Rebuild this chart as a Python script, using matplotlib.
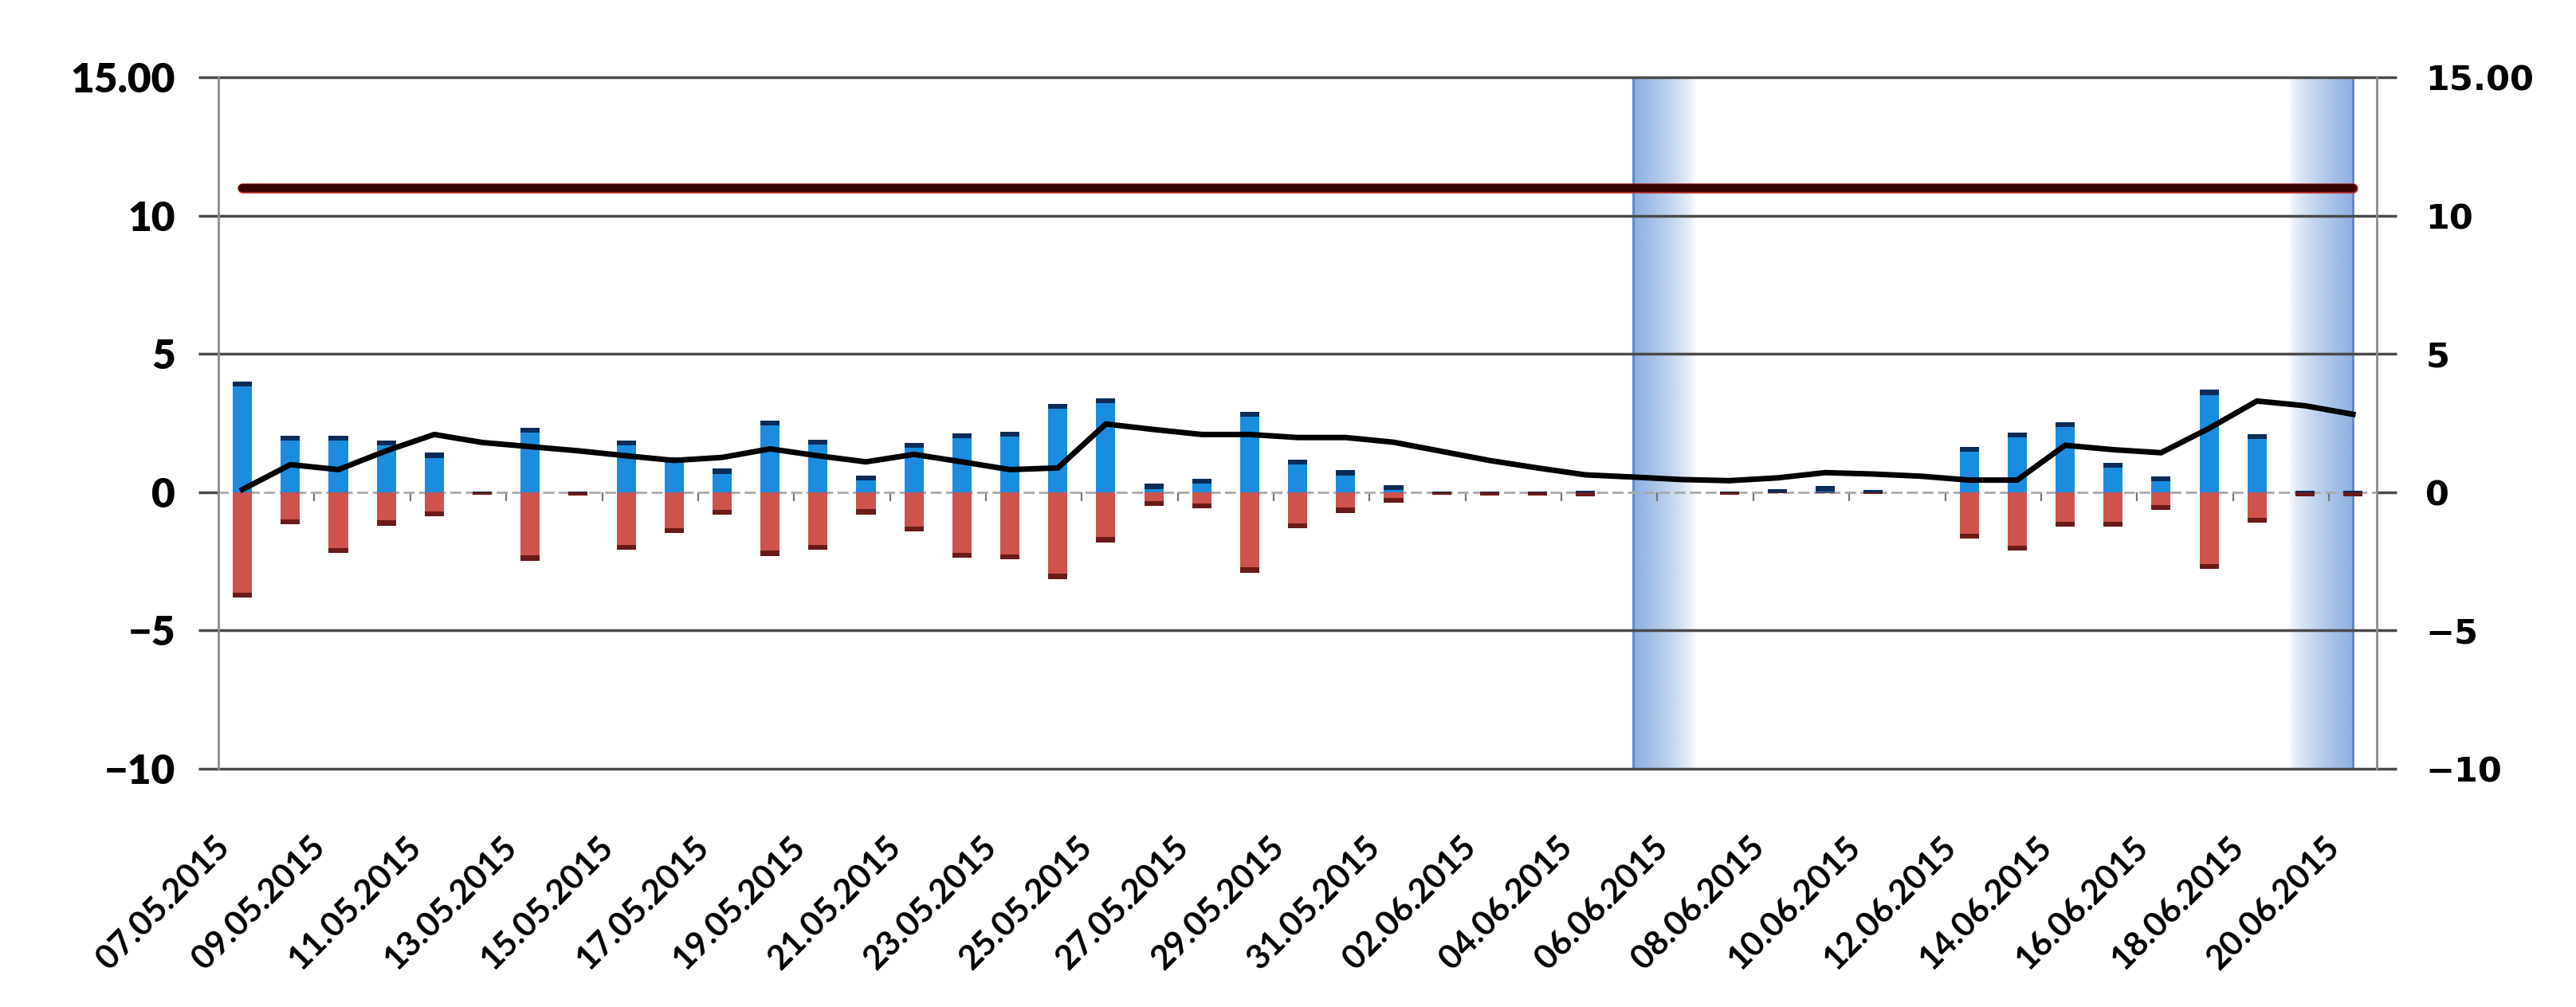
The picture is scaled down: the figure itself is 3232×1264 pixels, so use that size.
import matplotlib
matplotlib.use("Agg")
import matplotlib.pyplot as plt
import matplotlib.patheffects as pe
from matplotlib.colors import to_rgb
from matplotlib.transforms import blended_transform_factory, offset_copy
import numpy as np
import pandas as pd

# daily categories 07.05.2015 .. 20.06.2015
DATES = pd.date_range("2015-05-07", "2015-06-20", freq="D").strftime("%d.%m.%Y").tolist()

POSITIVE = [4.0, 2.05, 2.05, 1.87, 1.43, 0.04, 2.34, 0.04, 1.87, 1.26,
            0.85, 2.6, 1.9, 0.6, 1.79, 2.14, 2.2, 3.2, 3.4, 0.3,
            0.5, 2.9, 1.18, 0.79, 0.25, 0.03, 0.03, 0.03, 0.05, 0.0,
            0.0, 0.03, 0.1, 0.22, 0.08, 0.0, 1.65, 2.16, 2.53, 1.07,
            0.58, 3.7, 2.11, 0.05, 0.05]
NEGATIVE = [-3.8, -1.15, -2.2, -1.2, -0.88, -0.1, -2.47, -0.12, -2.09, -1.48,
            -0.82, -2.3, -2.09, -0.8, -1.41, -2.36, -2.42, -3.13, -1.81, -0.5,
            -0.58, -2.9, -1.3, -0.74, -0.38, -0.1, -0.12, -0.12, -0.15, 0.0,
            0.0, -0.1, -0.02, -0.02, -0.05, 0.0, -1.68, -2.12, -1.24, -1.24,
            -0.63, -2.78, -1.1, -0.14, -0.14]
TREND = [0.1, 1.0, 0.82, 1.5, 2.09, 1.8, 1.65, 1.5, 1.32, 1.15,
         1.26, 1.57, 1.32, 1.1, 1.37, 1.1, 0.82, 0.88, 2.47, 2.27,
         2.09, 2.09, 1.98, 1.98, 1.81, 1.48, 1.15, 0.88, 0.63, 0.55,
         0.46, 0.42, 0.52, 0.71, 0.66, 0.58, 0.44, 0.44, 1.7, 1.54,
         1.43, 2.31, 3.3, 3.13, 2.82]
LIMIT = 11
HIGHLIGHT_START = "05.06.2015"   # band fading to the right
HIGHLIGHT_END = "20.06.2015"     # band fading to the left
Y_TICKS = [-10, -5, 0, 5, 10, 15]
Y_LABELS = ["\u221210", "\u22125", "0", "5", "10", "15.00"]

BLUE = "#1a8ddf"
BLUE_CAP = "#0b2c58"
RED = "#cf524c"
RED_CAP = "#6a1a18"
GRID = "#4a4a4a"
AXIS = "#8c8c8c"
BAND = "#86abe0"

plt.rcParams["font.family"] = ["Lato", "DejaVu Sans"]


def band(ax, x0, x1, fade_right):
    ramp = np.linspace(1, 0, 256) if fade_right else np.linspace(0, 1, 256)
    img = np.zeros((1, 256, 4))
    img[..., :3] = to_rgb(BAND)
    img[..., 3] = 0.95 * ramp ** 0.7
    ax.imshow(img, extent=(x0, x1, -10, 15), aspect="auto", zorder=0.5,
              interpolation="bilinear")
    edge = x0 if fade_right else x1
    ax.axvline(edge, color="#5b86c4", lw=2, zorder=0.6)


def render():
    n = len(DATES)
    x = np.arange(n)
    pos = np.array(POSITIVE)
    neg = np.array(NEGATIVE)

    fig = plt.figure(figsize=(32.32, 12.64), dpi=100)
    ax = fig.add_axes([0.0848, 0.2366, 0.9227 - 0.0848, 0.923 - 0.2366])

    # highlight bands
    i0 = DATES.index(HIGHLIGHT_START)
    i1 = DATES.index(HIGHLIGHT_END)
    band(ax, i0, i0 + 1.3, True)
    band(ax, i1 - 1.35, i1, False)

    # horizontal grid lines (no solid line at zero)
    for v in Y_TICKS:
        if v != 0:
            ax.axhline(v, color=GRID, lw=2.5, zorder=1, clip_on=False)

    # bars with darker end caps
    w = 0.4
    ax.bar(x, pos, width=w, color=BLUE, zorder=3)
    cap_p = np.minimum(pos, 0.18)
    ax.bar(x, cap_p, bottom=pos - cap_p, width=w, color=BLUE_CAP, zorder=3.1)
    ax.bar(x, neg, width=w, color=RED, zorder=3)
    cap_n = np.minimum(-neg, 0.18)
    ax.bar(x, cap_n, bottom=neg, width=w, color=RED_CAP, zorder=3.1)

    ax.plot(x, TREND, color="black", lw=5, zorder=5, solid_joinstyle="round")
    ax.plot([x[0], x[-1]], [LIMIT, LIMIT], color="#360404", lw=7,
            solid_capstyle="round", zorder=5,
            path_effects=[pe.Stroke(linewidth=9, foreground="#b3261e"), pe.Normal()])

    ax.set_xlim(-0.5, n - 0.5)
    ax.set_ylim(-10, 15)

    # category axis crossing at zero, dashed, ticks every 2 categories
    ax.spines["bottom"].set_position(("data", 0))
    ax.spines["bottom"].set_linestyle((0, (4, 3)))
    ax.spines["bottom"].set_color("#a9a9a9")
    ax.spines["bottom"].set_linewidth(2)
    ax.spines["bottom"].set_zorder(2)
    ax.spines["top"].set_visible(False)
    ax.spines["right"].set_visible(False)
    ax.spines["left"].set_color(AXIS)
    ax.spines["left"].set_linewidth(2)
    ax.set_xticks(np.arange(1.5, n - 1, 2))
    ax.tick_params(axis="x", direction="out", length=8, width=1.6,
                   color="#777777", labelbottom=False)

    ax.set_yticks(Y_TICKS)
    ax.set_yticklabels(Y_LABELS)
    ax.tick_params(axis="y", length=18, width=2.5, color=GRID, pad=21,
                   labelsize=37)
    for lab in ax.get_yticklabels():
        lab.set_fontweight("heavy")

    # date labels along the bottom of the plot, every second day
    trans = offset_copy(blended_transform_factory(ax.transData, ax.transAxes),
                        fig=fig, x=-26, y=-57, units="points")
    for xi, d in zip(x[::2], DATES[::2]):
        ax.text(xi, 0, d, transform=trans, rotation=45, ha="right", va="top",
                rotation_mode="anchor", fontsize=30.5, fontweight="bold")

    # right-hand axis
    ax2 = ax.twinx()
    ax2.set_ylim(-10, 15)
    ax2.set_yticks(Y_TICKS)
    ax2.set_yticklabels(Y_LABELS)
    for s in ["top", "bottom", "left"]:
        ax2.spines[s].set_visible(False)
    ax2.spines["right"].set_color(AXIS)
    ax2.spines["right"].set_linewidth(2)
    ax2.tick_params(axis="y", length=18, width=2.5, color=GRID, pad=26,
                    labelsize=31)
    for lab in ax2.get_yticklabels():
        lab.set_fontweight("bold")
        lab.set_family(["DejaVu Sans"])

    fig.savefig("out.png", dpi=100, facecolor="white")
    plt.close(fig)


if __name__ == "__main__":
    render()
